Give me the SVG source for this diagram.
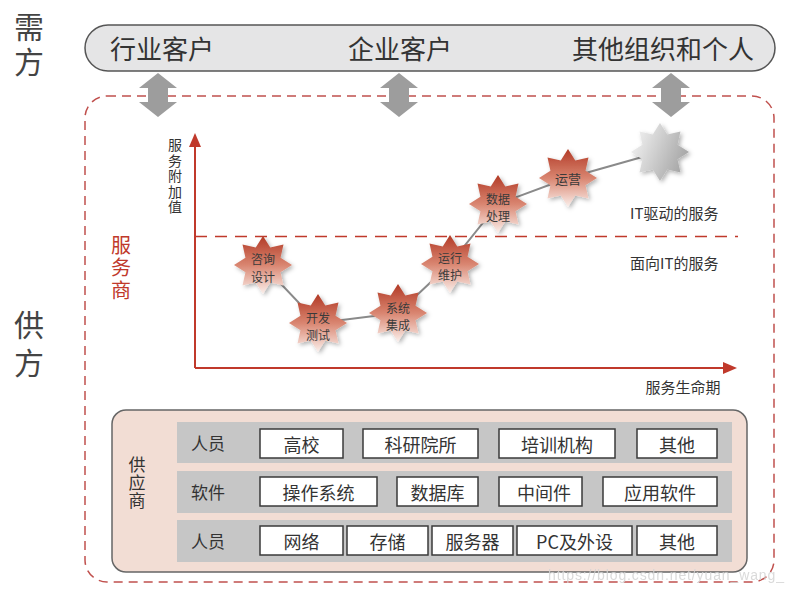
<svg xmlns="http://www.w3.org/2000/svg" width="793" height="592" viewBox="0 0 793 592">
<defs>
<style>
text{font-family:"Noto Sans CJK SC","Noto Sans",sans-serif;fill:#333;dominant-baseline:central;text-anchor:middle}
.v{writing-mode:vertical-rl;text-anchor:start;dominant-baseline:auto}
.big{font-size:30px;fill:#444}
.top{font-size:26px;text-anchor:start}
.ax{font-size:14px}
.st{font-size:12px;fill:#3a3a3a}
.red{fill:#c0392b;font-size:20px}
.rowlab{font-size:17px}
.bx{fill:#fff;stroke:#3a3a3a;stroke-width:1.5}
.bt{font-size:18px}
.row{fill:#c6c6c6}
.dar{fill:#9d9d9d}
.conn{stroke:#8a8a8a;stroke-width:2;fill:none}
.axis{stroke:#c0392b;stroke-width:2;fill:none}
</style>
<linearGradient id="gRed" x1="0" y1="0" x2="0" y2="1">
<stop offset="0" stop-color="#b23a26"/>
<stop offset="0.5" stop-color="#d98570"/>
<stop offset="1" stop-color="#fbf0ec"/>
</linearGradient>
<linearGradient id="gGray" x1="0" y1="0" x2="1" y2="0.4">
<stop offset="0" stop-color="#fafafa"/>
<stop offset="1" stop-color="#a9a9a9"/>
</linearGradient>
<filter id="sh" x="-30%" y="-30%" width="160%" height="160%">
<feDropShadow dx="2" dy="2" stdDeviation="2" flood-color="#000" flood-opacity="0.3"/>
</filter>
<path id="star" d="M0,-29 L7.27,-17.55 L20.5,-20.5 L17.55,-7.27 L29,0 L17.55,7.27 L20.5,20.5 L7.27,17.55 L0,29 L-7.27,17.55 L-20.5,20.5 L-17.55,7.27 L-29,0 L-17.55,-7.27 L-20.5,-20.5 L-7.27,-17.55 Z"/>
<path id="darr" d="M0,73 L19,88 L10,88 L10,102 L19,102 L0,117 L-19,102 L-10,102 L-10,88 L-19,88 Z"/>
</defs>
<rect width="793" height="592" fill="#fff"/>

<g id="demand-label">
<text class="big v" x="29" y="12" style="letter-spacing:5px">需方</text>
</g>
<g id="supply-label">
<text class="big v" x="29" y="310" style="letter-spacing:8px">供方</text>
</g>

<g id="supply-region">
<rect x="85" y="96" width="689" height="486" rx="22" fill="none" stroke="#c0504d" stroke-width="1.5" stroke-dasharray="9 6"/>
</g>

<g id="demand-bar">
<rect x="85" y="25" width="690" height="46" rx="23" fill="#e5e5e6" stroke="#555" stroke-width="1.5"/>
<text class="top" x="110" y="47">行业客户</text>
<text class="top" x="348" y="47">企业客户</text>
<text class="top" x="572" y="47">其他组织和个人</text>
</g>

<g id="arrows">
<use href="#darr" class="dar" x="158"/>
<use href="#darr" class="dar" x="399"/>
<use href="#darr" class="dar" x="671"/>
</g>

<g id="service-label">
<text class="red v" x="121" y="235" style="letter-spacing:2.5px">服务商</text>
</g>

<g id="axes">
<line class="axis" x1="195" y1="368" x2="195" y2="142"/>
<path d="M195,133 L201,147 L189,147 Z" fill="#c0392b"/>
<line class="axis" x1="195" y1="368" x2="726" y2="368"/>
<path d="M737,368 L723,362 L723,374 Z" fill="#c0392b"/>
<line x1="195" y1="236.5" x2="738" y2="236.5" stroke="#c0392b" stroke-width="1.5" stroke-dasharray="12 8"/>
<text class="ax v" x="175" y="138" style="letter-spacing:1.4px">服务附加值</text>
<text class="ax" x="630" y="212" style="text-anchor:start;font-size:15px">IT驱动的服务</text>
<text class="ax" x="630" y="262" style="text-anchor:start;font-size:15px">面向IT的服务</text>
<text class="ax" x="683" y="386" style="font-size:15px">服务生命期</text>
</g>

<g id="connectors">
<polyline class="conn" points="263,265 318,323 398,313 450,264 498,204 568,178 660,152"/>
</g>

<g id="s1" transform="translate(263,265)">
<use href="#star" fill="url(#gRed)" filter="url(#sh)"/>
<text class="st"><tspan x="0" y="-7">咨询</tspan><tspan x="0" y="11">设计</tspan></text>
</g>
<g id="s2" transform="translate(318,323)">
<use href="#star" fill="url(#gRed)" filter="url(#sh)"/>
<text class="st"><tspan x="0" y="-6.5">开发</tspan><tspan x="0" y="11">测试</tspan></text>
</g>
<g id="s3" transform="translate(398,313)">
<use href="#star" fill="url(#gRed)" filter="url(#sh)"/>
<text class="st"><tspan x="0" y="-6.5">系统</tspan><tspan x="0" y="11">集成</tspan></text>
</g>
<g id="s4" transform="translate(450,264)">
<use href="#star" fill="url(#gRed)" filter="url(#sh)"/>
<text class="st"><tspan x="0" y="-7.5">运行</tspan><tspan x="0" y="10">维护</tspan></text>
</g>
<g id="s5" transform="translate(498,204)">
<use href="#star" fill="url(#gRed)" filter="url(#sh)"/>
<text class="st"><tspan x="0" y="-6.5">数据</tspan><tspan x="0" y="11">处理</tspan></text>
</g>
<g id="s6" transform="translate(568,178)">
<use href="#star" fill="url(#gRed)" filter="url(#sh)"/>
<text class="st" y="0" style="font-size:13px">运营</text>
</g>
<g id="s7" transform="translate(660,152)">
<use href="#star" fill="url(#gGray)" filter="url(#sh)"/>
</g>

<g id="suppliers">
<rect x="112" y="410" width="635" height="162" rx="14" fill="#f2ddd4" stroke="#666" stroke-width="1.5"/>
<text class="rowlab v" x="137" y="456" style="letter-spacing:1px">供应商</text>
</g>
<g id="row1">
<rect class="row" x="177" y="422" width="555" height="41"/>
<text class="rowlab" x="208" y="442">人员</text>
<rect class="bx" x="260" y="429" width="83" height="29"/><text class="bt" x="301.5" y="443.5">高校</text>
<rect class="bx" x="363" y="429" width="115" height="29"/><text class="bt" x="420.5" y="443.5">科研院所</text>
<rect class="bx" x="499" y="429" width="116" height="29"/><text class="bt" x="557" y="443.5">培训机构</text>
<rect class="bx" x="637" y="429" width="80" height="29"/><text class="bt" x="677" y="443.5">其他</text>
</g>
<g id="row2">
<rect class="row" x="177" y="471" width="555" height="42"/>
<text class="rowlab" x="208" y="491">软件</text>
<rect class="bx" x="260" y="477" width="117" height="29"/><text class="bt" x="318.5" y="491.5">操作系统</text>
<rect class="bx" x="397" y="477" width="81" height="29"/><text class="bt" x="437.5" y="491.5">数据库</text>
<rect class="bx" x="499" y="477" width="83" height="29"/><text class="bt" x="544" y="491.5">中间件</text>
<rect class="bx" x="603" y="477" width="114" height="29"/><text class="bt" x="660" y="491.5">应用软件</text>
</g>
<g id="row3">
<rect class="row" x="177" y="520" width="555" height="42"/>
<text class="rowlab" x="208" y="540">人员</text>
<rect class="bx" x="260" y="526" width="83" height="29"/><text class="bt" x="301.5" y="540.5">网络</text>
<rect class="bx" x="347" y="526" width="81" height="29"/><text class="bt" x="387.5" y="540.5">存储</text>
<rect class="bx" x="432" y="526" width="81" height="29"/><text class="bt" x="472.5" y="540.5">服务器</text>
<rect class="bx" x="517" y="526" width="115" height="29"/><text class="bt" x="574.5" y="540.5">PC及外设</text>
<rect class="bx" x="637" y="526" width="80" height="29"/><text class="bt" x="677" y="540.5">其他</text>
</g>

<g id="watermark">
<text x="548" y="575" style="text-anchor:start;font-family:'Liberation Sans',sans-serif;font-size:14px;fill:#d4d4d4;opacity:0.85" textLength="236">https://blog.csdn.net/yuan_wang_</text>
</g>
</svg>
